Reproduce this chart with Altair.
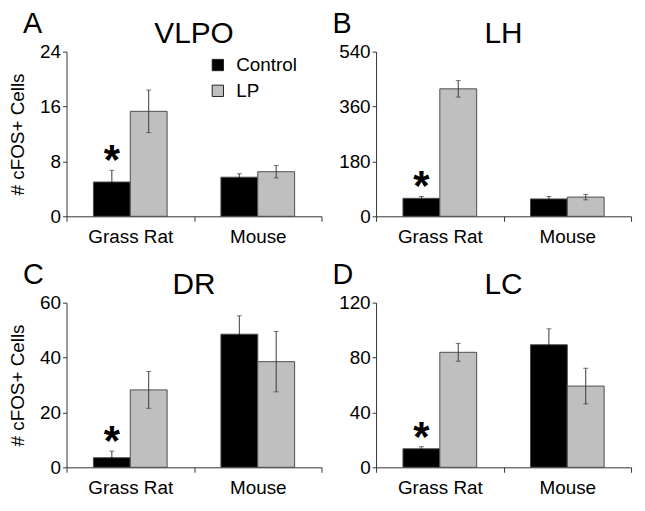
import altair as alt
import pandas as pd

regions = ["VLPO", "LH", "DR", "LC"]
letters = ["A", "B", "C", "D"]
groups = ["Grass Rat", "Mouse"]
conditions = ["Control", "LP"]

control_mean = [[5.0, 5.7], [59, 57], [3.5, 48.5], [13.5, 89.3]]
control_sem = [[1.7, 0.5], [6, 8], [2.4, 6.7], [1.5, 11.6]]
lp_mean = [[15.3, 6.5], [418, 63], [28.2, 38.5], [83.8, 59.2]]
lp_sem = [[3.1, 0.9], [27, 9], [6.7, 11], [6.5, 13]]
significant = [[True, False], [True, False], [True, False], [True, False]]

y_max = [24, 540, 60, 120]
minor_step = [4, 90, 10, 20]
major_step = [8, 180, 20, 40]

FONT = "Liberation Sans"
W, H = 257, 166
ERR = "#3a3a3a"


def panel(i):
    rows = []
    for gi, g in enumerate(groups):
        for cond, means, sems in (("Control", control_mean, control_sem), ("LP", lp_mean, lp_sem)):
            m = means[i][gi]
            s = sems[i][gi]
            rows.append({
                "group": g, "condition": cond, "mean": m, "sem": s,
                "lo": m - s, "hi": m + s,
                "star": bool(cond == "Control" and significant[i][gi]),
            })
    df = pd.DataFrame(rows)
    base = alt.Chart(df)

    ticks = list(range(0, y_max[i] + 1, minor_step[i]))
    x = alt.X("group:N", sort=groups,
              scale=alt.Scale(domain=groups, paddingInner=0, paddingOuter=0),
              axis=alt.Axis(title=None, labelAngle=0, tickBand="extent",
                            tickSize=5, labelPadding=6, labelFontSize=19,
                            labelFont=FONT, labelColor="black",
                            domainColor="#333", tickColor="#333"))
    xo = alt.XOffset("condition:N",
                     scale=alt.Scale(domain=conditions, paddingInner=0, paddingOuter=0.73))
    yaxis = alt.Axis(values=ticks,
                     labelExpr=f"datum.value % {major_step[i]} === 0 ? datum.label : ''",
                     grid=False, tickSize=4, labelPadding=2, labelFontSize=19,
                     labelFont=FONT, labelColor="black", domainColor="#333",
                     tickColor="#333",
                     title="# cFOS+ Cells" if i % 2 == 0 else None,
                     titleFontSize=19, titleFont=FONT, titleFontWeight="normal",
                     titleColor="black", titlePadding=12)
    y = alt.Y("mean:Q", scale=alt.Scale(domain=[0, y_max[i]], nice=False), axis=yaxis)

    legend = None
    if i == 0:
        legend = alt.Legend(title=None, orient="none", legendX=143, legendY=4,
                            symbolType="square", symbolSize=130,
                            symbolStrokeColor="#222", symbolStrokeWidth=1,
                            labelFontSize=19, labelFont=FONT, labelColor="black",
                            rowPadding=6, labelOffset=9, padding=0)
    color = alt.Color("condition:N",
                      scale=alt.Scale(domain=conditions, range=["#000000", "#bfbfbf"]),
                      legend=legend)

    bars = base.mark_bar(stroke="#4d4d4d", strokeWidth=1).encode(x=x, xOffset=xo, y=y, color=color)
    err_hi = base.mark_rule(color=ERR, strokeWidth=1).encode(
        x=x, xOffset=xo, y="mean:Q", y2="hi:Q")
    err_lo = base.mark_rule(strokeWidth=1).encode(
        x=x, xOffset=xo, y="lo:Q", y2="mean:Q",
        color=alt.condition("datum.condition === 'Control'", alt.value("#000000"), alt.value(ERR)))
    cap_hi = base.mark_tick(color=ERR, thickness=1, size=5).encode(
        x=x, xOffset=xo, y="hi:Q")
    cap_lo = base.mark_tick(thickness=1, size=5).encode(
        x=x, xOffset=xo, y="lo:Q",
        color=alt.condition("datum.condition === 'Control'", alt.value("#000000"), alt.value(ERR)))
    star = base.transform_filter("datum.star").mark_text(
        text="*", fontSize=42, fontWeight="bold", font=FONT, color="black",
        baseline="alphabetic", dy=4).encode(x=x, xOffset=xo, y="hi:Q")

    letter = alt.Chart(pd.DataFrame({"t": [letters[i]]})).mark_text(
        fontSize=29, font=FONT, color="black", align="left", baseline="alphabetic"
    ).encode(x=alt.value(-44), y=alt.value(-19), text="t:N")
    title = alt.Chart(pd.DataFrame({"t": [regions[i]]})).mark_text(
        fontSize=30, font=FONT, color="black", align="center", baseline="alphabetic"
    ).encode(x=alt.value(W / 2), y=alt.value(-9), text="t:N")

    return alt.layer(bars, err_hi, err_lo, cap_hi, cap_lo, star, letter, title).properties(width=W, height=H)


chart = alt.concat(*[panel(i) for i in range(4)], columns=2, spacing={"row": 15, "column": 10}).resolve_scale(
    color="independent"
).configure_view(stroke=None).properties(
    padding={"left": 0, "top": 0, "right": 5, "bottom": 5}
)

chart.save("out.html", embed_options={"renderer": "svg", "actions": False})
